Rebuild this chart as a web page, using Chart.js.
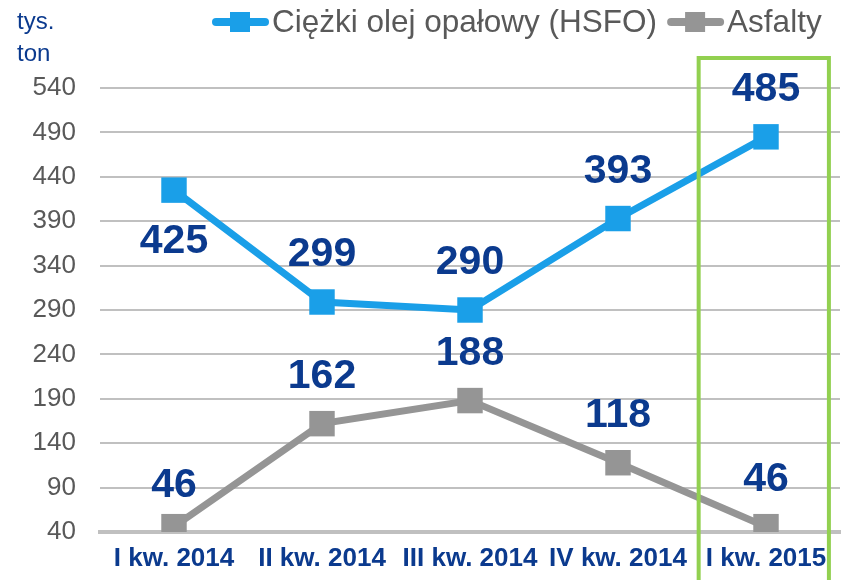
<!DOCTYPE html>
<html>
<head>
<meta charset="utf-8">
<script src="https://cdn.jsdelivr.net/npm/chart.js@4/dist/chart.umd.min.js"></script>
<style>
  html, body { margin: 0; padding: 0; background: #ffffff; }
  #wrap { width: 841px; height: 580px; position: relative; }
</style>
</head>
<body>
<div id="wrap"><canvas id="c" width="841" height="580"></canvas></div>
<script>
// ---- data ----
const categories = ['I kw. 2014', 'II kw. 2014', 'III kw. 2014', 'IV kw. 2014', 'I kw. 2015'];
const hsfoValues = [425, 299, 290, 393, 485];
const asfaltyValues = [46, 162, 188, 118, 46];
const seriesNames = ['Ciężki olej opałowy (HSFO)', 'Asfalty'];
const yTicks = [40, 90, 140, 190, 240, 290, 340, 390, 440, 490, 540];
const unitLines = ['tys.', 'ton'];
const highlightIndex = 4;

// ---- styles ----
const BLUE = '#1A9FE8';
const GRAY = '#959595';
const NAVY = '#0B3A8E';
const TEXTGRAY = '#595959';
const GRID = '#C0C0C0';
const GREEN = '#92D050';
const FONT = "'Liberation Sans', Arial, sans-serif";

const hsfoPlacement = ['below', 'above', 'above', 'above', 'above'];
const asfaltyPlacement = ['near', 'above', 'above', 'above', 'above'];
const placementOffset = { below: 52, above: -47, near: -41 };

const labelsPlugin = {
  id: 'valueLabels',
  afterDatasetsDraw(chart) {
    const ctx = chart.ctx;
    ctx.save();
    ctx.font = 'bold 41px ' + FONT;
    ctx.fillStyle = NAVY;
    ctx.textAlign = 'center';
    ctx.textBaseline = 'middle';
    chart.data.datasets.forEach((ds, di) => {
      const meta = chart.getDatasetMeta(di);
      meta.data.forEach((pt, i) => {
        const dy = placementOffset[ds.placement[i]];
        ctx.fillText(String(ds.data[i]), pt.x, pt.y + dy);
      });
    });
    ctx.restore();
  }
};

const decorPlugin = {
  id: 'decor',
  afterDraw(chart) {
    const ctx = chart.ctx;
    const xs = chart.scales.x;
    ctx.save();
    // highlight box
    const cx = xs.getPixelForValue(highlightIndex);
    const w = xs.width / categories.length;
    ctx.strokeStyle = GREEN;
    ctx.lineWidth = 4;
    const left = cx - 0.455 * w, right = cx + 0.425 * w;
    ctx.strokeRect(left, 58, right - left, 540);

    // unit label
    ctx.fillStyle = NAVY;
    ctx.font = '24px ' + FONT;
    ctx.textAlign = 'left';
    ctx.textBaseline = 'alphabetic';
    ctx.fillText(unitLines[0], 17, 29);
    ctx.fillText(unitLines[1], 17, 61);

    // legend
    const colors = [BLUE, GRAY];
    ctx.font = '31.5px ' + FONT;
    ctx.textBaseline = 'middle';
    let x = 212;
    const y = 22;
    seriesNames.forEach((name, i) => {
      ctx.strokeStyle = colors[i];
      ctx.lineWidth = 8;
      ctx.lineCap = 'round';
      ctx.beginPath();
      ctx.moveTo(x + 4, y);
      ctx.lineTo(x + 53, y);
      ctx.stroke();
      ctx.fillStyle = colors[i];
      ctx.fillRect(x + 18, y - 10, 20, 20);
      ctx.fillStyle = TEXTGRAY;
      ctx.fillText(name, x + 60, y + 1);
      x += 60 + ctx.measureText(name).width + 10;
    });
    ctx.restore();
  }
};

new Chart(document.getElementById('c'), {
  type: 'line',
  data: {
    labels: categories,
    datasets: [
      {
        label: seriesNames[0],
        data: hsfoValues,
        placement: hsfoPlacement,
        borderColor: BLUE,
        backgroundColor: BLUE,
        borderWidth: 7,
        pointStyle: 'rect',
        pointRadius: 18,
        pointHoverRadius: 18,
        pointBorderWidth: 0,
        tension: 0
      },
      {
        label: seriesNames[1],
        data: asfaltyValues,
        placement: asfaltyPlacement,
        borderColor: GRAY,
        backgroundColor: GRAY,
        borderWidth: 7,
        pointStyle: 'rect',
        pointRadius: 18,
        pointHoverRadius: 18,
        pointBorderWidth: 0,
        tension: 0
      }
    ]
  },
  options: {
    responsive: false,
    animation: false,
    layout: { autoPadding: false, padding: { top: 88, right: 1, left: 0, bottom: 0 } },
    plugins: { legend: { display: false }, tooltip: { enabled: false } },
    scales: {
      x: {
        offset: true,
        grid: { display: false, drawTicks: false },
        border: { display: true, color: GRID, width: 4 },
        ticks: {
          color: NAVY,
          font: { family: FONT, size: 26, weight: 'bold' },
          padding: 11,
          maxRotation: 0,
          autoSkip: false
        },
        afterFit(scale) {
          scale.height = 48;
          scale.paddingLeft = 0;
          scale.paddingRight = 0;
        }
      },
      y: {
        min: yTicks[0],
        max: yTicks[yTicks.length - 1],
        afterBuildTicks(scale) { scale.ticks = yTicks.map(v => ({ value: v })); },
        grid: { color: GRID, lineWidth: 2, drawTicks: false },
        border: { display: false },
        ticks: {
          color: TEXTGRAY,
          font: { family: FONT, size: 26 },
          padding: 24
        },
        afterFit(scale) {
          scale.width = 100;
          scale.paddingTop = 0;
          scale.paddingBottom = 0;
        }
      }
    }
  },
  plugins: [labelsPlugin, decorPlugin]
});
</script>
</body>
</html>
